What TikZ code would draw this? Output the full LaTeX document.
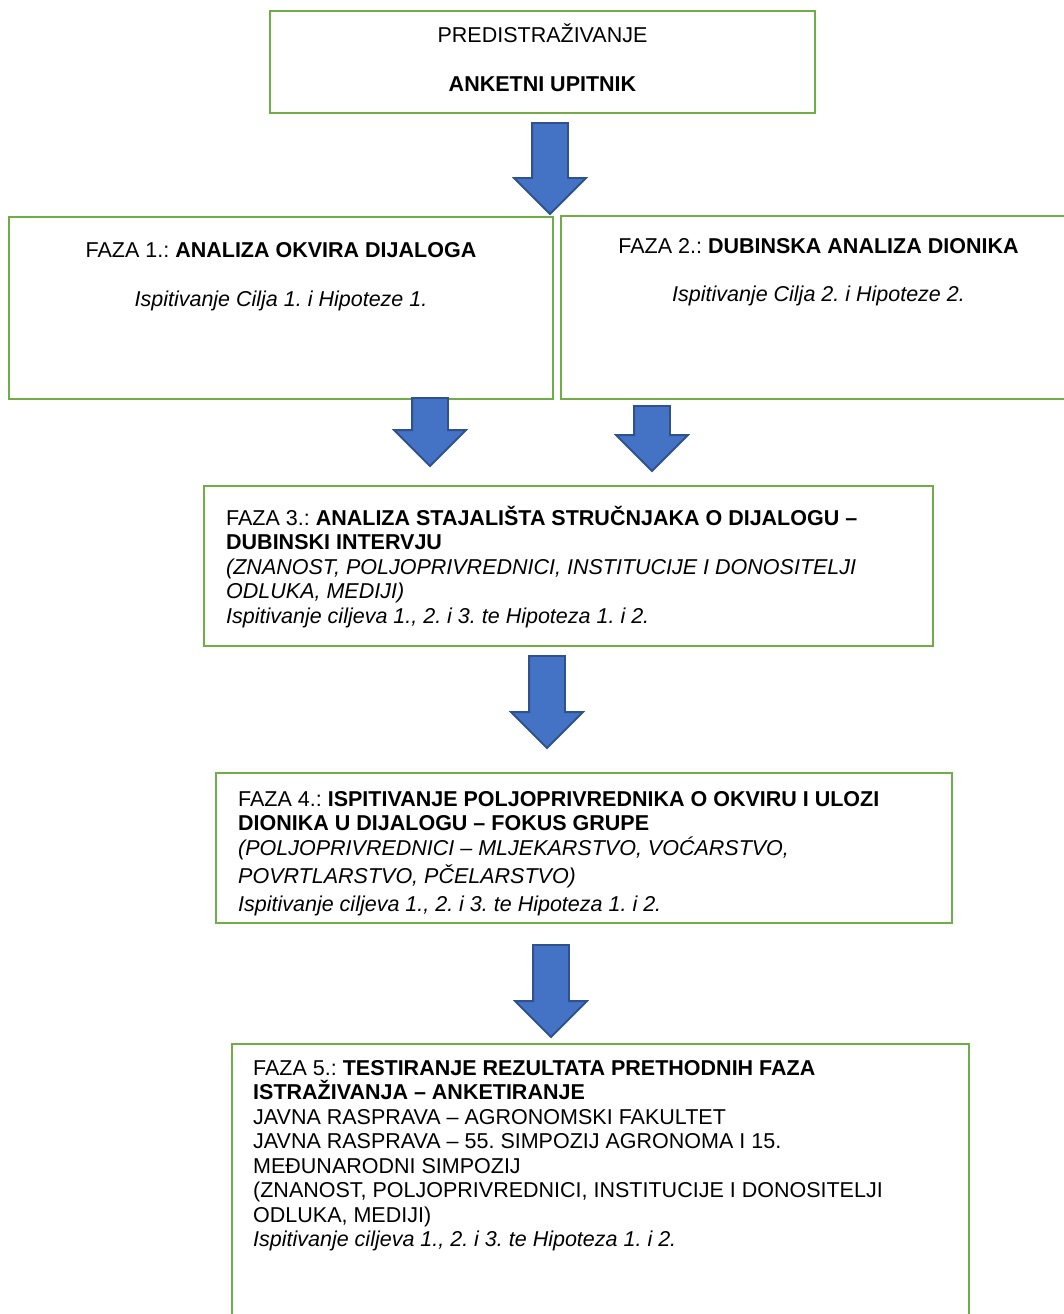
\documentclass[tikz,border=0pt]{standalone}
\usepackage{fontspec}
\setmainfont{Liberation Sans}
\usetikzlibrary{shapes.arrows}
\definecolor{boxgreen}{HTML}{70AD47}
\definecolor{arrowblue}{HTML}{4472C4}
\definecolor{arrowedge}{HTML}{2F528F}
\frenchspacing

\begin{document}
\begin{tikzpicture}[x=1pt,y=-1pt,
    phase/.style={draw=boxgreen,line width=2.5pt,fill=white,anchor=north west,inner sep=0pt,outer sep=0pt},
    txt/.style={inner sep=0pt,anchor=base,font=\fontsize{21.5}{24.5}\selectfont},
    lefttxt/.style={txt,anchor=north west,align=left},
    down/.style={single arrow,draw=arrowedge,fill=arrowblue,line width=1.8pt,
      single arrow head extend=18pt,single arrow tip angle=90,inner sep=17pt,
      outer sep=0pt,shape border rotate=270,anchor=tail}]
  \useasboundingbox (0,0) rectangle (1064,1314);

  % boxes
  \node[phase,minimum width=545pt,minimum height=102pt] (P) at (270,11) {};
  \node[phase,minimum width=544pt,minimum height=182pt] (F1) at (9,217) {};
  \node[phase,minimum width=515pt,minimum height=183pt] (F2) at (561,216) {};
  \node[phase,minimum width=729pt,minimum height=160pt] (F3) at (204,486) {};
  \node[phase,minimum width=736pt,minimum height=150pt] (F4) at (216,773) {};
  \node[phase,minimum width=737pt,minimum height=300pt] (F5) at (232,1044) {};

  % texts
  \node[txt] (Pa) at ([yshift=-32pt]P.north) {PREDISTRAŽIVANJE};
  \node[txt] (Pb) at ([yshift=-80pt]P.north) {\textbf{ANKETNI UPITNIK}};
  \node[txt] (F1a) at ([yshift=-40pt]F1.north) {FAZA 1.: \textbf{ANALIZA OKVIRA DIJALOGA}};
  \node[txt] (F1b) at ([yshift=-89pt]F1.north) {\textit{Ispitivanje Cilja 1. i Hipoteze 1.}};
  \node[txt] (F2a) at ([yshift=-37pt]F2.north) {FAZA 2.: \textbf{DUBINSKA ANALIZA DIONIKA}};
  \node[txt] (F2b) at ([yshift=-85pt]F2.north) {\textit{Ispitivanje Cilja 2. i Hipoteze 2.}};
  \node[lefttxt] (F3a) at ([xshift=22pt,yshift=-19pt]F3.north west)
    {\rule{0pt}{20pt}FAZA 3.: \textbf{ANALIZA STAJALIŠTA STRUČNJAKA O DIJALOGU –}\\
     \textbf{DUBINSKI INTERVJU}\\
     \textit{(ZNANOST, POLJOPRIVREDNICI, INSTITUCIJE I DONOSITELJI}\\
     \textit{ODLUKA, MEDIJI)}\\
     \textit{Ispitivanje ciljeva 1., 2. i 3. te Hipoteza 1. i 2.}};
  \node[lefttxt] (F4a) at ([xshift=22pt,yshift=-13pt]F4.north west)
    {\rule{0pt}{20pt}FAZA 4.: \textbf{ISPITIVANJE POLJOPRIVREDNIKA O OKVIRU I ULOZI}\\
     \textbf{DIONIKA U DIJALOGU – FOKUS GRUPE}\\
     \textit{(POLJOPRIVREDNICI – MLJEKARSTVO, VOĆARSTVO,}\\[4pt]
     \textit{POVRTLARSTVO, PČELARSTVO)}\\[3pt]
     \textit{Ispitivanje ciljeva 1., 2. i 3. te Hipoteza 1. i 2.}};
  \node[lefttxt] (F5a) at ([xshift=21pt,yshift=-11pt]F5.north west)
    {\rule{0pt}{20pt}FAZA 5.: \textbf{TESTIRANJE REZULTATA PRETHODNIH FAZA}\\
     \textbf{ISTRAŽIVANJA – ANKETIRANJE}\\
     JAVNA RASPRAVA – AGRONOMSKI FAKULTET\\
     JAVNA RASPRAVA – 55. SIMPOZIJ AGRONOMA I 15.\\
     MEĐUNARODNI SIMPOZIJ\\
     (ZNANOST, POLJOPRIVREDNICI, INSTITUCIJE I DONOSITELJI\\
     ODLUKA, MEDIJI)\\
     \textit{Ispitivanje ciljeva 1., 2. i 3. te Hipoteza 1. i 2.}};

  % arrows
  \node[down,minimum height=91pt] (A1) at (550,123) {};
  \node[down,minimum height=68pt] (A2) at (430,398) {};
  \node[down,minimum height=65pt] (A3) at (652,406) {};
  \node[down,minimum height=92pt] (A4) at (547,656) {};
  \node[down,minimum height=92pt] (A5) at (551,945) {};
\end{tikzpicture}
\end{document}
